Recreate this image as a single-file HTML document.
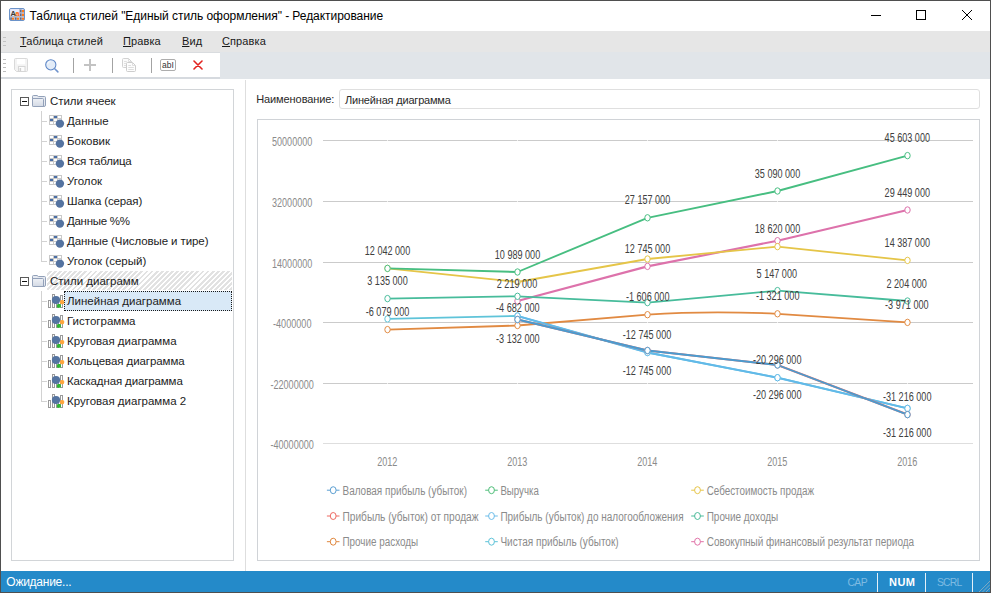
<!DOCTYPE html>
<html lang="ru"><head><meta charset="utf-8"><title>Таблица стилей</title>
<style>
html,body{margin:0;padding:0}
body{width:991px;height:593px;position:relative;overflow:hidden;background:#fff;font-family:"Liberation Sans", sans-serif;color:#1e1e1e}
.abs{position:absolute}
#frame{position:absolute;left:0;top:0;width:989px;height:591px;border:1px solid #4f4f4f;pointer-events:none;z-index:50}
#title{position:absolute;left:1px;top:1px;width:989px;height:30px;background:#fff}
#title .txt{position:absolute;left:28.6px;top:8px;font-size:12px;line-height:14px;letter-spacing:-0.05px;color:#000;white-space:nowrap}
#menu{position:absolute;left:1px;top:31px;width:989px;height:21px;background:#e6e6e6}
#menu span{position:absolute;top:4px;font-size:11px;line-height:13px;letter-spacing:0.1px;white-space:nowrap;color:#1a1a1a}
#menu u{text-decoration:underline;text-underline-offset:1px}
#tbband{position:absolute;left:1px;top:52px;width:989px;height:27px;background:#e1e5e9}
#tb{position:absolute;left:0;top:0;width:219px;height:26px;background:#fff;border-top:1px solid #d9dcdf;border-bottom:2px solid #d6dadf;box-sizing:border-box;height:27px}
.grip i{position:absolute;left:2px;width:3px;height:1px;background:#bdbdbd}
.tsep{position:absolute;top:58px;width:1px;height:15px;background:#a3a3a3}
#left{position:absolute;left:11px;top:89px;width:221px;height:470px;border:1px solid #d2d5d8;background:#fff}
.vline{position:absolute;left:41px;width:1px;background:#d2d2d2}
.row{position:absolute;left:0;width:245px;height:20px}
.row .lbl{position:absolute;top:3px;font-size:11.5px;line-height:14px;white-space:nowrap;color:#1c1c1c}
.row .hl{position:absolute;left:42px;top:10px;width:5px;height:1px;background:#d2d2d2}
.row .icw,.row .fold{position:absolute;line-height:0}
.exp{position:absolute;width:7px;height:7px;border:1px solid #5a5a5a;background:#fff}
.exp i{position:absolute;left:1px;top:3px;width:5px;height:1px;background:#111}
.hatch{position:absolute;left:47px;top:0;width:185px;height:19px;background:repeating-linear-gradient(135deg,#fff 0,#fff 1.65px,#e2e2e2 1.65px,#e2e2e2 3.6px)}
.sel{position:absolute;left:64px;top:0;width:166px;height:18px;border:1px dotted #1a1a1a;background:#d9e9f7}
#split{position:absolute;left:245px;top:80px;width:1px;height:491px;background:#dedede}
#nlabel{position:absolute;left:256.2px;top:92px;font-size:11px;line-height:14px;letter-spacing:-0.09px;white-space:nowrap;color:#2a2a2a}
#ninput{position:absolute;left:339px;top:89px;width:639px;height:18px;border:1px solid #dfdfdf;border-radius:3px;background:#fff}
#ninput span{position:absolute;left:5px;top:3px;font-size:11px;line-height:14px;letter-spacing:-0.19px;white-space:nowrap;color:#2a2a2a}
#cbox{position:absolute;left:257px;top:119px;width:721px;height:440px;border:1px solid #d0d3d7;background:#fff}
svg.chart{position:absolute;left:0;top:0}
#status{position:absolute;left:1px;top:571px;width:989px;height:21px;background:#248ac9}
#status span{position:absolute;top:4px;font-size:11px;line-height:14px;white-space:nowrap}
#status b{position:absolute;top:2px;width:1px;height:19px;background:#e4f0f8}
</style></head><body>
<div id="title">
<svg class="abs" style="left:8px;top:7px" width="16" height="13" viewBox="0 0 16 13"><rect x="0.5" y="0.5" width="15" height="12" rx="1.5" fill="#cfd6ee" stroke="#6b93c9"/><rect x="1.2" y="1.2" width="9" height="7" fill="#e8e9fb"/><path d="M10.5 1V12M1 8.5H15M5.5 8.5V12M10.5 4.5H15" stroke="#aeb4c4" stroke-width="0.8" fill="none"/><text x="1.6" y="7.6" font-family='"Liberation Sans",sans-serif' font-size="7.5" font-weight="bold" fill="#3c3c3c">A</text><text x="6.2" y="7.6" font-family='"Liberation Sans",sans-serif' font-size="7.6" font-weight="bold" fill="#ff6400">a</text><g fill="#ff7a1a"><rect x="13" y="2" width="2" height="2.2"/><rect x="13" y="5.6" width="2" height="2.4"/><rect x="3" y="9.6" width="2" height="2.2"/><rect x="8" y="9.6" width="2" height="2.2"/><rect x="13" y="9.6" width="2" height="2.2"/></g><g fill="#4a4f66"><rect x="11.2" y="1.6" width="1.3" height="2.6"/><rect x="11.2" y="5.4" width="1.3" height="2.6"/><rect x="1.4" y="9.4" width="1.3" height="2.4"/><rect x="6.2" y="9.4" width="1.3" height="2.4"/><rect x="11.2" y="9.4" width="1.3" height="2.4"/></g></svg>
<span class="txt">Таблица стилей "Единый стиль оформления" - Редактирование</span>
<svg class="abs" style="left:860px;top:0" width="129" height="30" viewBox="0 0 129 30"><path d="M10 14.5H20" stroke="#000" fill="none"/><rect x="55.5" y="9.5" width="9" height="9" fill="none" stroke="#000"/><path d="M101 9L111 19M111 9L101 19" stroke="#000" stroke-width="1" fill="none"/></svg>
</div>
<div id="menu">
<i class="abs" style="left:2px;top:6px;width:3px;height:1px;background:#c2c2c2"></i><i class="abs" style="left:2px;top:10px;width:3px;height:1px;background:#c2c2c2"></i><i class="abs" style="left:2px;top:14px;width:3px;height:1px;background:#c2c2c2"></i>
<span style="left:19px"><u>Т</u>аблица стилей</span><span style="left:122px"><u>П</u>равка</span><span style="left:181px"><u>В</u>ид</span><span style="left:221px"><u>С</u>правка</span>
</div>
<div id="tbband"><div id="tb"></div></div>
<div class="grip"><i style="top:59px;left:3px"></i><i style="top:63px;left:3px"></i><i style="top:67px;left:3px"></i><i style="top:71px;left:3px"></i></div>
<!-- toolbar icons -->
<svg class="abs" style="left:14px;top:58px" width="14" height="14" viewBox="0 0 14 14"><path d="M1.5 0.5H12.5Q13.5 0.5 13.5 1.5V12.5Q13.5 13.5 12.5 13.5H2.5L0.5 11.5V1.5Q0.5 0.5 1.5 0.5Z" fill="#f3f3f3" stroke="#d9d9d9"/><rect x="3" y="1" width="8" height="5.3" fill="#fff"/><rect x="4.5" y="8.5" width="6.5" height="5" fill="#fcfcfc" stroke="#d6d6d6"/><rect x="5.6" y="10" width="1.5" height="3" fill="#d0d0d0"/></svg>
<svg class="abs" style="left:44px;top:58px" width="16" height="16" viewBox="0 0 16 16"><circle cx="6.8" cy="6.8" r="5.1" fill="#e3ecf8" stroke="#5b85c6" stroke-width="1.05"/><path d="M10.7 10.7L13.9 13.9" stroke="#6f93cd" stroke-width="1.5" stroke-linecap="round"/><path d="M3.6 6.2Q4 3.8 6.4 3.4" stroke="#fff" stroke-width="1" fill="none" opacity="0.8"/></svg>
<div class="tsep" style="left:73px"></div>
<svg class="abs" style="left:84px;top:59px" width="12" height="12" viewBox="0 0 12 12"><path d="M0 6H12M6 0V12" stroke="#c3c3c3" stroke-width="2" fill="none"/></svg>
<div class="tsep" style="left:112px"></div>
<svg class="abs" style="left:122px;top:58px" width="14" height="14" viewBox="0 0 14 14"><path d="M1.5 0.5H6.5L9.5 3.5V8.5Q9.5 9.5 8.5 9.5H1.5Q0.5 9.5 0.5 8.5V1.5Q0.5 0.5 1.5 0.5Z" fill="#fbfbfb" stroke="#d2d2d2"/><path d="M6.5 0.5V3.5H9.5" fill="none" stroke="#d8d8d8" stroke-width="0.8"/><path d="M2 3.5H4.8M2 5.5H4M2 7.5H4" stroke="#dcdcdc" stroke-width="0.9"/><path d="M5.5 4.5H10.5L13.5 7.5V12.5Q13.5 13.5 12.5 13.5H5.5Q4.5 13.5 4.5 12.5V5.5Q4.5 4.5 5.5 4.5Z" fill="#fdfdfd" stroke="#cdcdcd"/><path d="M10.5 4.5V7.5H13.5" fill="none" stroke="#d6d6d6" stroke-width="0.8"/><path d="M6.3 7.5H9M6.3 9.5H11.8M6.3 11.5H11.8" stroke="#d9d9d9" stroke-width="0.9"/></svg>
<div class="tsep" style="left:151px"></div>
<svg class="abs" style="left:160px;top:59px" width="16" height="12" viewBox="0 0 16 12"><rect x="0.5" y="0.5" width="15" height="11" rx="1.5" fill="#fff" stroke="#adadad"/><text x="2.1" y="9" font-family='"Liberation Sans",sans-serif' font-size="8.6" fill="#333" textLength="11.8" lengthAdjust="spacingAndGlyphs">abI</text></svg>
<svg class="abs" style="left:193.3px;top:60.3px" width="10" height="10" viewBox="0 0 10 10"><path d="M1 1L9 9M9 1L1 9" stroke="#e2231f" stroke-width="1.6" fill="none" stroke-linecap="round"/></svg>

<div id="left"></div>
<div class="vline" style="top:111px;height:151px"></div><div class="vline" style="top:291px;height:111px"></div>
<div class="row" style="top:91px"><span class="exp" style="left:20px;top:6px"><i></i></span><span class="fold" style="left:32px;top:4px"><svg width="14" height="12" viewBox="0 0 14 12"><defs><linearGradient id="fg" x1="0" y1="0" x2="0" y2="1"><stop offset="0" stop-color="#eef1f6"/><stop offset="1" stop-color="#d3d9e4"/></linearGradient></defs><path d="M0.5 10.5V1.5Q0.5 0.5 1.5 0.5H5L6.5 1.5H12.5Q13.5 1.5 13.5 2.5V10Q13.5 11.5 12 11.5H1.5Q0.5 11.5 0.5 10.5Z" fill="#e6eaf1" stroke="#93a1b9"/><path d="M0.5 3.5H10.5Q11.5 3.5 11.5 4.5V11.5H1.5Q0.5 11.5 0.5 10.5Z" fill="url(#fg)" stroke="#93a1b9"/></svg></span><span class="lbl" style="left:50px;letter-spacing:-0.08px">Стили ячеек</span></div>
<div class="row" style="top:111px"><span class="hl"></span><span class="icw" style="left:49px;top:4px"><svg class="ic" width="16" height="14" viewBox="0 0 16 14"><rect x="0.5" y="0.5" width="12" height="9" fill="#fff" stroke="#c9c9c9"/><path d="M4.5 0.5V9.5M8.5 0.5V9.5M0.5 3.5H12.5M0.5 6.5H12.5" stroke="#c9c9c9" fill="none"/><rect x="5" y="1" width="3" height="2" fill="#4a6ea6"/><rect x="1" y="4" width="3" height="2" fill="#4a6ea6"/><circle cx="10.9" cy="8.6" r="4.2" fill="#5473a0"/></svg></span><span class="lbl" style="left:67px;letter-spacing:0px">Данные</span></div>
<div class="row" style="top:131px"><span class="hl"></span><span class="icw" style="left:49px;top:4px"><svg class="ic" width="16" height="14" viewBox="0 0 16 14"><rect x="0.5" y="0.5" width="12" height="9" fill="#fff" stroke="#c9c9c9"/><path d="M4.5 0.5V9.5M8.5 0.5V9.5M0.5 3.5H12.5M0.5 6.5H12.5" stroke="#c9c9c9" fill="none"/><rect x="5" y="1" width="3" height="2" fill="#4a6ea6"/><rect x="1" y="4" width="3" height="2" fill="#4a6ea6"/><circle cx="10.9" cy="8.6" r="4.2" fill="#5473a0"/></svg></span><span class="lbl" style="left:67px;letter-spacing:0px">Боковик</span></div>
<div class="row" style="top:151px"><span class="hl"></span><span class="icw" style="left:49px;top:4px"><svg class="ic" width="16" height="14" viewBox="0 0 16 14"><rect x="0.5" y="0.5" width="12" height="9" fill="#fff" stroke="#c9c9c9"/><path d="M4.5 0.5V9.5M8.5 0.5V9.5M0.5 3.5H12.5M0.5 6.5H12.5" stroke="#c9c9c9" fill="none"/><rect x="5" y="1" width="3" height="2" fill="#4a6ea6"/><rect x="1" y="4" width="3" height="2" fill="#4a6ea6"/><circle cx="10.9" cy="8.6" r="4.2" fill="#5473a0"/></svg></span><span class="lbl" style="left:67px;letter-spacing:-0.18px">Вся таблица</span></div>
<div class="row" style="top:171px"><span class="hl"></span><span class="icw" style="left:49px;top:4px"><svg class="ic" width="16" height="14" viewBox="0 0 16 14"><rect x="0.5" y="0.5" width="12" height="9" fill="#fff" stroke="#c9c9c9"/><path d="M4.5 0.5V9.5M8.5 0.5V9.5M0.5 3.5H12.5M0.5 6.5H12.5" stroke="#c9c9c9" fill="none"/><rect x="5" y="1" width="3" height="2" fill="#4a6ea6"/><rect x="1" y="4" width="3" height="2" fill="#4a6ea6"/><circle cx="10.9" cy="8.6" r="4.2" fill="#5473a0"/></svg></span><span class="lbl" style="left:67px;letter-spacing:0px">Уголок</span></div>
<div class="row" style="top:191px"><span class="hl"></span><span class="icw" style="left:49px;top:4px"><svg class="ic" width="16" height="14" viewBox="0 0 16 14"><rect x="0.5" y="0.5" width="12" height="9" fill="#fff" stroke="#c9c9c9"/><path d="M4.5 0.5V9.5M8.5 0.5V9.5M0.5 3.5H12.5M0.5 6.5H12.5" stroke="#c9c9c9" fill="none"/><rect x="5" y="1" width="3" height="2" fill="#4a6ea6"/><rect x="1" y="4" width="3" height="2" fill="#4a6ea6"/><circle cx="10.9" cy="8.6" r="4.2" fill="#5473a0"/></svg></span><span class="lbl" style="left:67px;letter-spacing:-0.13px">Шапка (серая)</span></div>
<div class="row" style="top:211px"><span class="hl"></span><span class="icw" style="left:49px;top:4px"><svg class="ic" width="16" height="14" viewBox="0 0 16 14"><rect x="0.5" y="0.5" width="12" height="9" fill="#fff" stroke="#c9c9c9"/><path d="M4.5 0.5V9.5M8.5 0.5V9.5M0.5 3.5H12.5M0.5 6.5H12.5" stroke="#c9c9c9" fill="none"/><rect x="5" y="1" width="3" height="2" fill="#4a6ea6"/><rect x="1" y="4" width="3" height="2" fill="#4a6ea6"/><circle cx="10.9" cy="8.6" r="4.2" fill="#5473a0"/></svg></span><span class="lbl" style="left:67px;letter-spacing:-0.28px">Данные %%</span></div>
<div class="row" style="top:231px"><span class="hl"></span><span class="icw" style="left:49px;top:4px"><svg class="ic" width="16" height="14" viewBox="0 0 16 14"><rect x="0.5" y="0.5" width="12" height="9" fill="#fff" stroke="#c9c9c9"/><path d="M4.5 0.5V9.5M8.5 0.5V9.5M0.5 3.5H12.5M0.5 6.5H12.5" stroke="#c9c9c9" fill="none"/><rect x="5" y="1" width="3" height="2" fill="#4a6ea6"/><rect x="1" y="4" width="3" height="2" fill="#4a6ea6"/><circle cx="10.9" cy="8.6" r="4.2" fill="#5473a0"/></svg></span><span class="lbl" style="left:67px;letter-spacing:-0.09px">Данные (Числовые и тире)</span></div>
<div class="row" style="top:251px"><span class="hl"></span><span class="icw" style="left:49px;top:4px"><svg class="ic" width="16" height="14" viewBox="0 0 16 14"><rect x="0.5" y="0.5" width="12" height="9" fill="#fff" stroke="#c9c9c9"/><path d="M4.5 0.5V9.5M8.5 0.5V9.5M0.5 3.5H12.5M0.5 6.5H12.5" stroke="#c9c9c9" fill="none"/><rect x="5" y="1" width="3" height="2" fill="#4a6ea6"/><rect x="1" y="4" width="3" height="2" fill="#4a6ea6"/><circle cx="10.9" cy="8.6" r="4.2" fill="#5473a0"/></svg></span><span class="lbl" style="left:67px;letter-spacing:0px">Уголок (серый)</span></div>
<div class="row" style="top:271px"><div class="hatch"></div><span class="exp" style="left:20px;top:6px"><i></i></span><span class="fold" style="left:32px;top:4px"><svg width="14" height="12" viewBox="0 0 14 12"><defs><linearGradient id="fg" x1="0" y1="0" x2="0" y2="1"><stop offset="0" stop-color="#eef1f6"/><stop offset="1" stop-color="#d3d9e4"/></linearGradient></defs><path d="M0.5 10.5V1.5Q0.5 0.5 1.5 0.5H5L6.5 1.5H12.5Q13.5 1.5 13.5 2.5V10Q13.5 11.5 12 11.5H1.5Q0.5 11.5 0.5 10.5Z" fill="#e6eaf1" stroke="#93a1b9"/><path d="M0.5 3.5H10.5Q11.5 3.5 11.5 4.5V11.5H1.5Q0.5 11.5 0.5 10.5Z" fill="url(#fg)" stroke="#93a1b9"/></svg></span><span class="lbl" style="left:50px;letter-spacing:0px">Стили диаграмм</span></div>
<div class="row" style="top:291px"><span class="hl"></span><div class="sel"></div><span class="icw" style="left:48px;top:3px"><svg class="ic" width="17" height="15" viewBox="0 0 17 15"><rect x="0.5" y="6.5" width="2" height="7" fill="#fff" stroke="#9a9a9a"/><rect x="4.5" y="0.5" width="2" height="13" fill="#fff" stroke="#9a9a9a"/><rect x="8.5" y="3.5" width="2" height="10" fill="#fff" stroke="#9a9a9a"/><rect x="12.5" y="1.5" width="2" height="12" fill="#fff" stroke="#9a9a9a"/><circle cx="8" cy="6" r="4.1" fill="#5473a0"/><rect x="12" y="6" width="4.2" height="4.2" rx="1.6" fill="#ffa63c"/><rect x="8.9" y="10.1" width="4" height="3.6" rx="1.3" fill="#2db52f"/></svg></span><span class="lbl" style="left:67px;letter-spacing:0px">Линейная диаграмма</span></div>
<div class="row" style="top:311px"><span class="hl"></span><span class="icw" style="left:48px;top:3px"><svg class="ic" width="17" height="15" viewBox="0 0 17 15"><rect x="0.5" y="6.5" width="2" height="7" fill="#fff" stroke="#9a9a9a"/><rect x="4.5" y="0.5" width="2" height="13" fill="#fff" stroke="#9a9a9a"/><rect x="8.5" y="3.5" width="2" height="10" fill="#fff" stroke="#9a9a9a"/><rect x="12.5" y="1.5" width="2" height="12" fill="#fff" stroke="#9a9a9a"/><circle cx="8" cy="6" r="4.1" fill="#5473a0"/><rect x="12" y="6" width="4.2" height="4.2" rx="1.6" fill="#ffa63c"/><rect x="8.9" y="10.1" width="4" height="3.6" rx="1.3" fill="#2db52f"/></svg></span><span class="lbl" style="left:67px;letter-spacing:0px">Гистограмма</span></div>
<div class="row" style="top:331px"><span class="hl"></span><span class="icw" style="left:48px;top:3px"><svg class="ic" width="17" height="15" viewBox="0 0 17 15"><rect x="0.5" y="6.5" width="2" height="7" fill="#fff" stroke="#9a9a9a"/><rect x="4.5" y="0.5" width="2" height="13" fill="#fff" stroke="#9a9a9a"/><rect x="8.5" y="3.5" width="2" height="10" fill="#fff" stroke="#9a9a9a"/><rect x="12.5" y="1.5" width="2" height="12" fill="#fff" stroke="#9a9a9a"/><circle cx="8" cy="6" r="4.1" fill="#5473a0"/><rect x="12" y="6" width="4.2" height="4.2" rx="1.6" fill="#ffa63c"/><rect x="8.9" y="10.1" width="4" height="3.6" rx="1.3" fill="#2db52f"/></svg></span><span class="lbl" style="left:67px;letter-spacing:0px">Круговая диаграмма</span></div>
<div class="row" style="top:351px"><span class="hl"></span><span class="icw" style="left:48px;top:3px"><svg class="ic" width="17" height="15" viewBox="0 0 17 15"><rect x="0.5" y="6.5" width="2" height="7" fill="#fff" stroke="#9a9a9a"/><rect x="4.5" y="0.5" width="2" height="13" fill="#fff" stroke="#9a9a9a"/><rect x="8.5" y="3.5" width="2" height="10" fill="#fff" stroke="#9a9a9a"/><rect x="12.5" y="1.5" width="2" height="12" fill="#fff" stroke="#9a9a9a"/><circle cx="8" cy="6" r="4.1" fill="#5473a0"/><rect x="12" y="6" width="4.2" height="4.2" rx="1.6" fill="#ffa63c"/><rect x="8.9" y="10.1" width="4" height="3.6" rx="1.3" fill="#2db52f"/></svg></span><span class="lbl" style="left:67px;letter-spacing:-0.07px">Кольцевая диаграмма</span></div>
<div class="row" style="top:371px"><span class="hl"></span><span class="icw" style="left:48px;top:3px"><svg class="ic" width="17" height="15" viewBox="0 0 17 15"><rect x="0.5" y="6.5" width="2" height="7" fill="#fff" stroke="#9a9a9a"/><rect x="4.5" y="0.5" width="2" height="13" fill="#fff" stroke="#9a9a9a"/><rect x="8.5" y="3.5" width="2" height="10" fill="#fff" stroke="#9a9a9a"/><rect x="12.5" y="1.5" width="2" height="12" fill="#fff" stroke="#9a9a9a"/><circle cx="8" cy="6" r="4.1" fill="#5473a0"/><rect x="12" y="6" width="4.2" height="4.2" rx="1.6" fill="#ffa63c"/><rect x="8.9" y="10.1" width="4" height="3.6" rx="1.3" fill="#2db52f"/></svg></span><span class="lbl" style="left:67px;letter-spacing:-0.13px">Каскадная диаграмма</span></div>
<div class="row" style="top:391px"><span class="hl"></span><span class="icw" style="left:48px;top:3px"><svg class="ic" width="17" height="15" viewBox="0 0 17 15"><rect x="0.5" y="6.5" width="2" height="7" fill="#fff" stroke="#9a9a9a"/><rect x="4.5" y="0.5" width="2" height="13" fill="#fff" stroke="#9a9a9a"/><rect x="8.5" y="3.5" width="2" height="10" fill="#fff" stroke="#9a9a9a"/><rect x="12.5" y="1.5" width="2" height="12" fill="#fff" stroke="#9a9a9a"/><circle cx="8" cy="6" r="4.1" fill="#5473a0"/><rect x="12" y="6" width="4.2" height="4.2" rx="1.6" fill="#ffa63c"/><rect x="8.9" y="10.1" width="4" height="3.6" rx="1.3" fill="#2db52f"/></svg></span><span class="lbl" style="left:67px;letter-spacing:0px">Круговая диаграмма 2</span></div>
<div id="split"></div>
<span id="nlabel">Наименование:</span>
<div id="ninput"><span>Линейная диаграмма</span></div>
<div id="cbox"></div>
<svg class="chart" width="991" height="593" viewBox="0 0 991 593" font-family='"Liberation Sans", sans-serif' font-size="12">
<rect x="323" y="140" width="650" height="1" fill="#cbcbcb"/>
<rect x="323" y="201" width="650" height="1" fill="#cbcbcb"/>
<rect x="323" y="262" width="650" height="1" fill="#cbcbcb"/>
<rect x="323" y="322" width="650" height="1" fill="#cbcbcb"/>
<rect x="323" y="383" width="650" height="1" fill="#cbcbcb"/>
<rect x="323" y="443" width="650" height="1" fill="#dedede"/>
<rect x="387.0" y="140" width="1" height="1" fill="#fff" opacity="0.7"/>
<rect x="387.0" y="201" width="1" height="1" fill="#fff" opacity="0.7"/>
<rect x="387.0" y="262" width="1" height="1" fill="#fff" opacity="0.7"/>
<rect x="387.0" y="322" width="1" height="1" fill="#fff" opacity="0.7"/>
<rect x="387.0" y="383" width="1" height="1" fill="#fff" opacity="0.7"/>
<rect x="517.0" y="140" width="1" height="1" fill="#fff" opacity="0.7"/>
<rect x="517.0" y="201" width="1" height="1" fill="#fff" opacity="0.7"/>
<rect x="517.0" y="262" width="1" height="1" fill="#fff" opacity="0.7"/>
<rect x="517.0" y="322" width="1" height="1" fill="#fff" opacity="0.7"/>
<rect x="517.0" y="383" width="1" height="1" fill="#fff" opacity="0.7"/>
<rect x="647.0" y="140" width="1" height="1" fill="#fff" opacity="0.7"/>
<rect x="647.0" y="201" width="1" height="1" fill="#fff" opacity="0.7"/>
<rect x="647.0" y="262" width="1" height="1" fill="#fff" opacity="0.7"/>
<rect x="647.0" y="322" width="1" height="1" fill="#fff" opacity="0.7"/>
<rect x="647.0" y="383" width="1" height="1" fill="#fff" opacity="0.7"/>
<rect x="777.0" y="140" width="1" height="1" fill="#fff" opacity="0.7"/>
<rect x="777.0" y="201" width="1" height="1" fill="#fff" opacity="0.7"/>
<rect x="777.0" y="262" width="1" height="1" fill="#fff" opacity="0.7"/>
<rect x="777.0" y="322" width="1" height="1" fill="#fff" opacity="0.7"/>
<rect x="777.0" y="383" width="1" height="1" fill="#fff" opacity="0.7"/>
<rect x="907.0" y="140" width="1" height="1" fill="#fff" opacity="0.7"/>
<rect x="907.0" y="201" width="1" height="1" fill="#fff" opacity="0.7"/>
<rect x="907.0" y="262" width="1" height="1" fill="#fff" opacity="0.7"/>
<rect x="907.0" y="322" width="1" height="1" fill="#fff" opacity="0.7"/>
<rect x="907.0" y="383" width="1" height="1" fill="#fff" opacity="0.7"/>
<text x="272.0" y="145.9" fill="#8b8b8b" textLength="40.3" lengthAdjust="spacingAndGlyphs">50000000</text>
<text x="272.0" y="206.9" fill="#8b8b8b" textLength="40.3" lengthAdjust="spacingAndGlyphs">32000000</text>
<text x="272.0" y="267.9" fill="#8b8b8b" textLength="40.3" lengthAdjust="spacingAndGlyphs">14000000</text>
<text x="273.0" y="327.9" fill="#8b8b8b" textLength="38.5" lengthAdjust="spacingAndGlyphs">-4000000</text>
<text x="270.4" y="388.9" fill="#8b8b8b" textLength="43.5" lengthAdjust="spacingAndGlyphs">-22000000</text>
<text x="270.4" y="448.9" fill="#8b8b8b" textLength="43.5" lengthAdjust="spacingAndGlyphs">-40000000</text>
<text x="377.2" y="466.4" fill="#8b8b8b" textLength="20.2" lengthAdjust="spacingAndGlyphs">2012</text>
<text x="507.2" y="466.4" fill="#8b8b8b" textLength="20.2" lengthAdjust="spacingAndGlyphs">2013</text>
<text x="637.2" y="466.4" fill="#8b8b8b" textLength="20.2" lengthAdjust="spacingAndGlyphs">2014</text>
<text x="767.2" y="466.4" fill="#8b8b8b" textLength="20.2" lengthAdjust="spacingAndGlyphs">2015</text>
<text x="897.2" y="466.4" fill="#8b8b8b" textLength="20.2" lengthAdjust="spacingAndGlyphs">2016</text>
<path d="M517.5 301 L647.5 266.4 L777.5 240.7 L907.5 210" fill="none" stroke="#dd72ab" stroke-width="2.15" stroke-linejoin="round" stroke-linecap="round"/>
<path d="M387.5 318.9 L517.5 316 L647.5 352.5 L777.5 377.7 L907.5 408.4" fill="none" stroke="#5fc4d9" stroke-width="1.8" stroke-linejoin="round" stroke-linecap="round"/>
<path d="M387.5 329.6 L517.5 325.5 L647.5 314.7 C692.5 311.5 732.5 311.6 777.5 313.8 L907.5 322.4" fill="none" stroke="#e18a42" stroke-width="1.8" stroke-linejoin="round" stroke-linecap="round"/>
<path d="M387.5 298.6 L517.5 296.3 L647.5 302.6 L777.5 290.6 L907.5 301" fill="none" stroke="#47bc9b" stroke-width="1.8" stroke-linejoin="round" stroke-linecap="round"/>
<path d="M517.5 316 L647.5 352.5 L777.5 377.7 L907.5 408.4" fill="none" stroke="#62b9e9" stroke-width="2.0" stroke-linejoin="round" stroke-linecap="round"/>
<path d="M387.5 268.4 L517.5 282 L647.5 259 L777.5 246.6 L907.5 260.4" fill="none" stroke="#e5c548" stroke-width="1.8" stroke-linejoin="round" stroke-linecap="round"/>
<path d="M387.5 268.4 L517.5 272 L647.5 217.8 L777.5 191 L907.5 155.6" fill="none" stroke="#47be81" stroke-width="1.85" stroke-linejoin="round" stroke-linecap="round"/>
<path d="M517.5 319.5 L647.5 350.5 L777.5 365 L907.5 414.6" fill="none" stroke="#ec7068" stroke-width="2.1" stroke-linejoin="round" stroke-linecap="round"/>
<path d="M517.5 319.5 L647.5 350.5 L777.5 365 L907.5 414.6" fill="none" stroke="#4a9bcf" stroke-width="1.8" stroke-linejoin="round" stroke-linecap="round"/>
<ellipse cx="517.5" cy="301" rx="2.7" ry="3.2" fill="#fff" stroke="#dd72ab" stroke-width="1"/>
<ellipse cx="647.5" cy="266.4" rx="2.7" ry="3.2" fill="#fff" stroke="#dd72ab" stroke-width="1"/>
<ellipse cx="777.5" cy="240.7" rx="2.7" ry="3.2" fill="#fff" stroke="#dd72ab" stroke-width="1"/>
<ellipse cx="907.5" cy="210" rx="2.7" ry="3.2" fill="#fff" stroke="#dd72ab" stroke-width="1"/>
<ellipse cx="387.5" cy="318.9" rx="2.7" ry="3.2" fill="#fff" stroke="#5fc4d9" stroke-width="1"/>
<ellipse cx="517.5" cy="316" rx="2.7" ry="3.2" fill="#fff" stroke="#5fc4d9" stroke-width="1"/>
<ellipse cx="647.5" cy="352.5" rx="2.7" ry="3.2" fill="#fff" stroke="#5fc4d9" stroke-width="1"/>
<ellipse cx="777.5" cy="377.7" rx="2.7" ry="3.2" fill="#fff" stroke="#5fc4d9" stroke-width="1"/>
<ellipse cx="907.5" cy="408.4" rx="2.7" ry="3.2" fill="#fff" stroke="#5fc4d9" stroke-width="1"/>
<ellipse cx="387.5" cy="329.6" rx="2.7" ry="3.2" fill="#fff" stroke="#e18a42" stroke-width="1"/>
<ellipse cx="517.5" cy="325.5" rx="2.7" ry="3.2" fill="#fff" stroke="#e18a42" stroke-width="1"/>
<ellipse cx="647.5" cy="314.7" rx="2.7" ry="3.2" fill="#fff" stroke="#e18a42" stroke-width="1"/>
<ellipse cx="777.5" cy="313.8" rx="2.7" ry="3.2" fill="#fff" stroke="#e18a42" stroke-width="1"/>
<ellipse cx="907.5" cy="322.4" rx="2.7" ry="3.2" fill="#fff" stroke="#e18a42" stroke-width="1"/>
<ellipse cx="387.5" cy="298.6" rx="2.7" ry="3.2" fill="#fff" stroke="#47bc9b" stroke-width="1"/>
<ellipse cx="517.5" cy="296.3" rx="2.7" ry="3.2" fill="#fff" stroke="#47bc9b" stroke-width="1"/>
<ellipse cx="647.5" cy="302.6" rx="2.7" ry="3.2" fill="#fff" stroke="#47bc9b" stroke-width="1"/>
<ellipse cx="777.5" cy="290.6" rx="2.7" ry="3.2" fill="#fff" stroke="#47bc9b" stroke-width="1"/>
<ellipse cx="907.5" cy="301" rx="2.7" ry="3.2" fill="#fff" stroke="#47bc9b" stroke-width="1"/>
<ellipse cx="517.5" cy="316" rx="2.7" ry="3.2" fill="#fff" stroke="#62b9e9" stroke-width="1"/>
<ellipse cx="647.5" cy="352.5" rx="2.7" ry="3.2" fill="#fff" stroke="#62b9e9" stroke-width="1"/>
<ellipse cx="777.5" cy="377.7" rx="2.7" ry="3.2" fill="#fff" stroke="#62b9e9" stroke-width="1"/>
<ellipse cx="907.5" cy="408.4" rx="2.7" ry="3.2" fill="#fff" stroke="#62b9e9" stroke-width="1"/>
<ellipse cx="387.5" cy="268.4" rx="2.7" ry="3.2" fill="#fff" stroke="#e5c548" stroke-width="1"/>
<ellipse cx="517.5" cy="282" rx="2.7" ry="3.2" fill="#fff" stroke="#e5c548" stroke-width="1"/>
<ellipse cx="647.5" cy="259" rx="2.7" ry="3.2" fill="#fff" stroke="#e5c548" stroke-width="1"/>
<ellipse cx="777.5" cy="246.6" rx="2.7" ry="3.2" fill="#fff" stroke="#e5c548" stroke-width="1"/>
<ellipse cx="907.5" cy="260.4" rx="2.7" ry="3.2" fill="#fff" stroke="#e5c548" stroke-width="1"/>
<ellipse cx="387.5" cy="268.4" rx="2.7" ry="3.2" fill="#fff" stroke="#47be81" stroke-width="1"/>
<ellipse cx="517.5" cy="272" rx="2.7" ry="3.2" fill="#fff" stroke="#47be81" stroke-width="1"/>
<ellipse cx="647.5" cy="217.8" rx="2.7" ry="3.2" fill="#fff" stroke="#47be81" stroke-width="1"/>
<ellipse cx="777.5" cy="191" rx="2.7" ry="3.2" fill="#fff" stroke="#47be81" stroke-width="1"/>
<ellipse cx="907.5" cy="155.6" rx="2.7" ry="3.2" fill="#fff" stroke="#47be81" stroke-width="1"/>
<ellipse cx="517.5" cy="319.5" rx="2.7" ry="3.2" fill="#fff" stroke="#ec7068" stroke-width="1"/>
<ellipse cx="647.5" cy="350.5" rx="2.7" ry="3.2" fill="#fff" stroke="#ec7068" stroke-width="1"/>
<ellipse cx="777.5" cy="365" rx="2.7" ry="3.2" fill="#fff" stroke="#ec7068" stroke-width="1"/>
<ellipse cx="907.5" cy="414.6" rx="2.7" ry="3.2" fill="#fff" stroke="#ec7068" stroke-width="1"/>
<ellipse cx="517.5" cy="319.5" rx="2.7" ry="3.2" fill="#fff" stroke="#4a9bcf" stroke-width="1"/>
<ellipse cx="647.5" cy="350.5" rx="2.7" ry="3.2" fill="#fff" stroke="#4a9bcf" stroke-width="1"/>
<ellipse cx="777.5" cy="365" rx="2.7" ry="3.2" fill="#fff" stroke="#4a9bcf" stroke-width="1"/>
<ellipse cx="907.5" cy="414.6" rx="2.7" ry="3.2" fill="#fff" stroke="#4a9bcf" stroke-width="1"/>
<text x="364.8" y="254.5" fill="#404040" textLength="45.4" lengthAdjust="spacingAndGlyphs">12 042 000</text>
<text x="367.3" y="284.5" fill="#404040" textLength="40.4" lengthAdjust="spacingAndGlyphs">3 135 000</text>
<text x="365.7" y="315.6" fill="#404040" textLength="43.6" lengthAdjust="spacingAndGlyphs">-6 079 000</text>
<text x="494.8" y="258.8" fill="#404040" textLength="45.4" lengthAdjust="spacingAndGlyphs">10 989 000</text>
<text x="496.8" y="287.8" fill="#404040" textLength="40.4" lengthAdjust="spacingAndGlyphs">2 219 000</text>
<text x="496.0" y="311.5" fill="#404040" textLength="43.6" lengthAdjust="spacingAndGlyphs">-4 682 000</text>
<text x="496.0" y="343" fill="#404040" textLength="43.6" lengthAdjust="spacingAndGlyphs">-3 132 000</text>
<text x="624.8" y="203.9" fill="#404040" textLength="45.4" lengthAdjust="spacingAndGlyphs">27 157 000</text>
<text x="624.8" y="252.9" fill="#404040" textLength="45.4" lengthAdjust="spacingAndGlyphs">12 745 000</text>
<text x="625.9" y="300.6" fill="#404040" textLength="43.6" lengthAdjust="spacingAndGlyphs">-1 606 000</text>
<text x="622.7" y="338.9" fill="#404040" textLength="48.6" lengthAdjust="spacingAndGlyphs">-12 745 000</text>
<text x="622.7" y="374.6" fill="#404040" textLength="48.6" lengthAdjust="spacingAndGlyphs">-12 745 000</text>
<text x="754.8" y="177.6" fill="#404040" textLength="45.4" lengthAdjust="spacingAndGlyphs">35 090 000</text>
<text x="754.8" y="233.1" fill="#404040" textLength="45.4" lengthAdjust="spacingAndGlyphs">18 620 000</text>
<text x="756.6" y="277.6" fill="#404040" textLength="40.4" lengthAdjust="spacingAndGlyphs">5 147 000</text>
<text x="755.9" y="299.5" fill="#404040" textLength="43.6" lengthAdjust="spacingAndGlyphs">-1 321 000</text>
<text x="752.9" y="363.5" fill="#404040" textLength="48.6" lengthAdjust="spacingAndGlyphs">-20 296 000</text>
<text x="752.9" y="399.4" fill="#404040" textLength="48.6" lengthAdjust="spacingAndGlyphs">-20 296 000</text>
<text x="884.6" y="141.7" fill="#404040" textLength="45.4" lengthAdjust="spacingAndGlyphs">45 603 000</text>
<text x="884.6" y="197.1" fill="#404040" textLength="45.4" lengthAdjust="spacingAndGlyphs">29 449 000</text>
<text x="884.6" y="246.5" fill="#404040" textLength="45.4" lengthAdjust="spacingAndGlyphs">14 387 000</text>
<text x="886.5" y="287.9" fill="#404040" textLength="40.4" lengthAdjust="spacingAndGlyphs">2 204 000</text>
<text x="885.0" y="308.7" fill="#404040" textLength="43.6" lengthAdjust="spacingAndGlyphs">-3 971 000</text>
<text x="882.9" y="400.5" fill="#404040" textLength="48.6" lengthAdjust="spacingAndGlyphs">-31 216 000</text>
<text x="882.9" y="436.6" fill="#404040" textLength="48.6" lengthAdjust="spacingAndGlyphs">-31 216 000</text>
<path d="M326.9 490.2H339.5" stroke="#5b9fd2" stroke-width="1" fill="none"/>
<ellipse cx="333.2" cy="490.2" rx="2.9" ry="3.5" fill="#fff" stroke="#5b9fd2" stroke-width="1"/>
<text x="342.5" y="494.8" fill="#8b8b8b" textLength="124.5" lengthAdjust="spacingAndGlyphs">Валовая прибыль (убыток)</text>
<path d="M485.2 490.2H497.8" stroke="#4cbd77" stroke-width="1" fill="none"/>
<ellipse cx="491.5" cy="490.2" rx="2.9" ry="3.5" fill="#fff" stroke="#4cbd77" stroke-width="1"/>
<text x="500.4" y="494.8" fill="#8b8b8b" textLength="38.4" lengthAdjust="spacingAndGlyphs">Выручка</text>
<path d="M691.2 490.2H703.8" stroke="#e6c445" stroke-width="1" fill="none"/>
<ellipse cx="697.5" cy="490.2" rx="2.9" ry="3.5" fill="#fff" stroke="#e6c445" stroke-width="1"/>
<text x="706.7" y="494.8" fill="#8b8b8b" textLength="107.3" lengthAdjust="spacingAndGlyphs">Себестоимость продаж</text>
<path d="M326.9 516H339.5" stroke="#ee6a62" stroke-width="1" fill="none"/>
<ellipse cx="333.2" cy="516" rx="2.9" ry="3.5" fill="#fff" stroke="#ee6a62" stroke-width="1"/>
<text x="342.5" y="520.6" fill="#8b8b8b" textLength="136" lengthAdjust="spacingAndGlyphs">Прибыль (убыток) от продаж</text>
<path d="M485.2 516H497.8" stroke="#6bbce9" stroke-width="1" fill="none"/>
<ellipse cx="491.5" cy="516" rx="2.9" ry="3.5" fill="#fff" stroke="#6bbce9" stroke-width="1"/>
<text x="500.4" y="520.6" fill="#8b8b8b" textLength="183.2" lengthAdjust="spacingAndGlyphs">Прибыль (убыток) до налогообложения</text>
<path d="M691.2 516H703.8" stroke="#48ba98" stroke-width="1" fill="none"/>
<ellipse cx="697.5" cy="516" rx="2.9" ry="3.5" fill="#fff" stroke="#48ba98" stroke-width="1"/>
<text x="706.7" y="520.6" fill="#8b8b8b" textLength="71.5" lengthAdjust="spacingAndGlyphs">Прочие доходы</text>
<path d="M326.9 541.7H339.5" stroke="#e0883f" stroke-width="1" fill="none"/>
<ellipse cx="333.2" cy="541.7" rx="2.9" ry="3.5" fill="#fff" stroke="#e0883f" stroke-width="1"/>
<text x="342.5" y="546.3" fill="#8b8b8b" textLength="75.6" lengthAdjust="spacingAndGlyphs">Прочие расходы</text>
<path d="M485.2 541.7H497.8" stroke="#5cc2d8" stroke-width="1" fill="none"/>
<ellipse cx="491.5" cy="541.7" rx="2.9" ry="3.5" fill="#fff" stroke="#5cc2d8" stroke-width="1"/>
<text x="500.4" y="546.3" fill="#8b8b8b" textLength="118.3" lengthAdjust="spacingAndGlyphs">Чистая прибыль (убыток)</text>
<path d="M691.2 541.7H703.8" stroke="#e070a6" stroke-width="1" fill="none"/>
<ellipse cx="697.5" cy="541.7" rx="2.9" ry="3.5" fill="#fff" stroke="#e070a6" stroke-width="1"/>
<text x="706.7" y="546.3" fill="#8b8b8b" textLength="207.4" lengthAdjust="spacingAndGlyphs">Совокупный финансовый результат периода</text>
</svg>
<div id="status">
<span style="left:5.3px;top:4.4px;font-size:12px;color:#fff;letter-spacing:-0.25px">Ожидание...</span>
<span style="left:846.5px;top:4.8px;color:#7ebbe2;font-size:10.4px;letter-spacing:-0.65px">CAP</span><b style="left:876px"></b>
<span style="left:888px;color:#fff;font-weight:bold;letter-spacing:0.45px">NUM</span><b style="left:924px"></b>
<span style="left:936px;top:4.8px;color:#7ebbe2;font-size:10.4px;letter-spacing:-0.85px">SCRL</span><b style="left:971px"></b>
<svg class="abs" style="left:977px;top:9px" width="12" height="12" viewBox="0 0 12 12"><path d="M1 12L12 1M4.5 12L12 4.5M8 12L12 8" stroke="#7aa7c4" stroke-width="1" fill="none"/></svg>
</div>
<div id="frame"></div>
</body></html>
